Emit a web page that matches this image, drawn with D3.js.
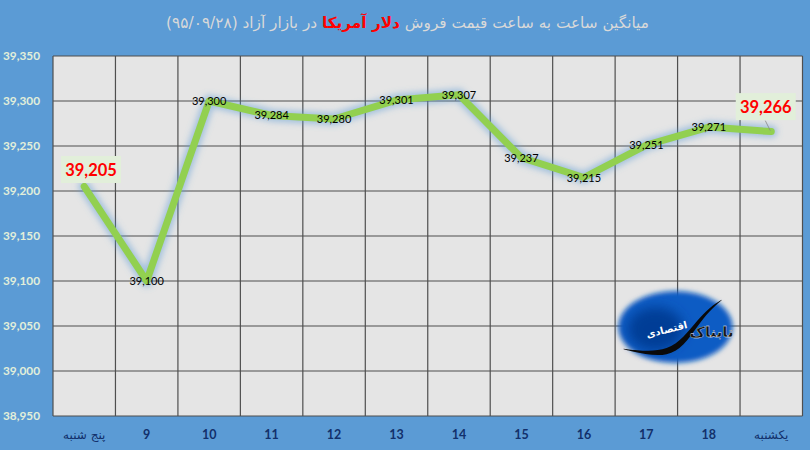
<!DOCTYPE html>
<html lang="fa"><head><meta charset="utf-8">
<script src="https://cdnjs.cloudflare.com/ajax/libs/d3/7.8.5/d3.min.js"></script>
<style>html,body{margin:0;padding:0;background:#5b9bd5;overflow:hidden}svg{display:block}</style>
</head><body><svg id="c" width="810" height="450"></svg>
<script>
const categories=["پنج شنبه","9","10","11","12","13","14","15","16","17","18","یکشنبه"];
const values=[39205,39100,39300,39284,39280,39301,39307,39237,39215,39251,39271,39266];
const yTicks=[38950,39000,39050,39100,39150,39200,39250,39300,39350];
const titleParts=[["میانگین ساعت به ساعت قیمت فروش ",false],["دلار آمریکا",true],[" در بازار آزاد (۹۵/۰۹/۲۸)",false]];
const highlighted=[0,11];
const logoTitle="تابناک";
const logoSub="اقتصادی";

const svg=d3.select("#c");
const m={l:53,r:802.5,t:56,b:416};
const x=d3.scaleBand().domain(categories).range([m.l,m.r]);
const y=d3.scaleLinear().domain([38950,39350]).range([m.b,m.t]);
const latin="Lato, 'Open Sans', sans-serif";
const arabic="'DejaVu Sans', sans-serif";
const defs=svg.append("defs");
defs.append("filter").attr("id","glow").attr("x","-10%").attr("y","-20%").attr("width","120%").attr("height","140%")
  .append("feGaussianBlur").attr("stdDeviation",3);
defs.append("filter").attr("id","soft").attr("x","-20%").attr("y","-20%").attr("width","140%").attr("height","140%")
  .append("feGaussianBlur").attr("stdDeviation",2.5);
defs.append("filter").attr("id","soft2").attr("x","-30%").attr("y","-30%").attr("width","160%").attr("height","160%")
  .append("feGaussianBlur").attr("stdDeviation",6);

svg.append("rect").attr("width",810).attr("height",450).attr("fill","#5b9bd5");
svg.append("rect").attr("x",m.l).attr("y",m.t).attr("width",m.r-m.l).attr("height",m.b-m.t).attr("fill","#e5e5e5");

const grid="#4f4f4f";
svg.append("g").selectAll("line").data(yTicks).join("line")
  .attr("x1",m.l).attr("x2",m.r).attr("y1",d=>y(d)).attr("y2",d=>y(d)).attr("stroke",grid).attr("stroke-width",1.2);
const edges=categories.map(c=>x(c)).concat([m.r]);
svg.append("g").selectAll("line").data(edges).join("line")
  .attr("x1",d=>d).attr("x2",d=>d).attr("y1",m.t).attr("y2",m.b).attr("stroke",grid).attr("stroke-width",1.2);

// y axis labels
svg.append("g").selectAll("text").data(yTicks).join("text")
  .attr("x",40).attr("y",d=>y(d)+4).attr("text-anchor","end")
  .attr("font-family",latin).attr("font-size",11.8).attr("font-weight",700).attr("fill","#e2efda")
  .text(d=>d3.format(",")(d));

// x axis labels
svg.append("g").selectAll("text").data(categories).join("text")
  .attr("x",d=>x(d)+x.bandwidth()/2).attr("y",439).attr("text-anchor","middle")
  .attr("font-family",d=>/\d/.test(d)?latin:arabic)
  .attr("font-size",d=>/\d/.test(d)?12.5:12).attr("font-weight",d=>/\d/.test(d)?700:400)
  .attr("fill","#12306b").text(d=>d);

// logo
const lx=x("18")-2, ly=y(39050)+1;
const logo=svg.append("g");
logo.append("ellipse").attr("cx",lx).attr("cy",ly).attr("rx",57).attr("ry",36).attr("fill","#0b5cc4").attr("filter","url(#soft)");
logo.append("ellipse").attr("cx",lx-20).attr("cy",ly+2).attr("rx",28).attr("ry",22).attr("fill","#023c96").attr("filter","url(#soft2)");
const swoosh=d3.area().curve(d3.curveBasis).x(d=>d[0]).y0(d=>d[1]-d[2]).y1(d=>d[1]+d[2]);
logo.append("path").attr("fill","#0a0a0a")
  .attr("d",swoosh([[lx-52,ly+22,0.3],[lx-30,ly+26,1.6],[lx-8,ly+26,3.2],[lx+8,ly+15,4.2],[lx+22,ly-4,3],[lx+34,ly-18,1.6],[lx+46,ly-27,0.3]]));
logo.append("text").attr("transform",`translate(${lx+36},${ly+10})`).attr("text-anchor","middle").attr("direction","rtl")
  .attr("font-family",arabic).attr("font-weight",700).attr("font-size",15)
  .attr("fill","#111").attr("stroke","#fff").attr("stroke-width",0.3).text(logoTitle);
logo.append("text").attr("transform",`translate(${lx-8},${ly+6}) rotate(-14)`).attr("text-anchor","middle").attr("direction","rtl")
  .attr("font-family",arabic).attr("font-size",10).attr("font-weight",700).attr("fill","#fff").text(logoSub);

// line
const line=d3.line().x((d,i)=>x(categories[i])+x.bandwidth()/2).y(d=>y(d));
svg.append("path").datum(values).attr("d",line).attr("fill","none").attr("stroke","#5b9bd5").attr("stroke-opacity",.5)
  .attr("stroke-width",12).attr("stroke-linejoin","round").attr("stroke-linecap","round").attr("filter","url(#glow)");
svg.append("path").datum(values).attr("d",line).attr("fill","none").attr("stroke","#92d050")
  .attr("stroke-width",7).attr("stroke-linejoin","round").attr("stroke-linecap","round");

// leader for last label
const last=values.length-1;
svg.append("line").attr("x1",x(categories[last])+x.bandwidth()/2-6).attr("y1",y(values[last])-11)
  .attr("x2",x(categories[last])+x.bandwidth()/2-1).attr("y2",y(values[last])-1)
  .attr("stroke","#888").attr("stroke-width",.8);

// value labels
svg.append("g").selectAll("text").data(values.map((v,i)=>({v,i})).filter(d=>!highlighted.includes(d.i))).join("text")
  .attr("x",d=>x(categories[d.i])+x.bandwidth()/2).attr("y",d=>y(d.v)+4).attr("text-anchor","middle")
  .attr("font-family",latin).attr("font-size",11).attr("fill","#000").text(d=>d3.format(",")(d.v));

// highlighted labels
const hi=svg.append("g").selectAll("g").data(highlighted).join("g")
  .attr("transform",i=>`translate(${x(categories[i])+x.bandwidth()/2+(i===0?6.8:-5.5)},${y(values[i])+(i===0?-17:-25)})`);
hi.append("rect").attr("x",-30).attr("y",-13.5).attr("width",60).attr("height",27).attr("fill","#e2efda");
hi.append("text").attr("text-anchor","middle").attr("y",6).attr("font-family",latin).attr("font-weight",700)
  .attr("font-size",16.5).attr("fill","#ff0000").text(i=>d3.format(",")(values[i]));

// title
const t=svg.append("text").attr("x",407.5).attr("y",28).attr("text-anchor","middle").attr("direction","rtl")
  .attr("font-family",arabic).attr("font-size",15.3).attr("font-weight",400).attr("fill","#d9d9d9");
t.selectAll("tspan").data(titleParts).join("tspan")
  .attr("fill",d=>d[1]?"#ff0000":"#d9d9d9").attr("font-weight",d=>d[1]?700:400).text(d=>d[0]);
</script></body></html>
